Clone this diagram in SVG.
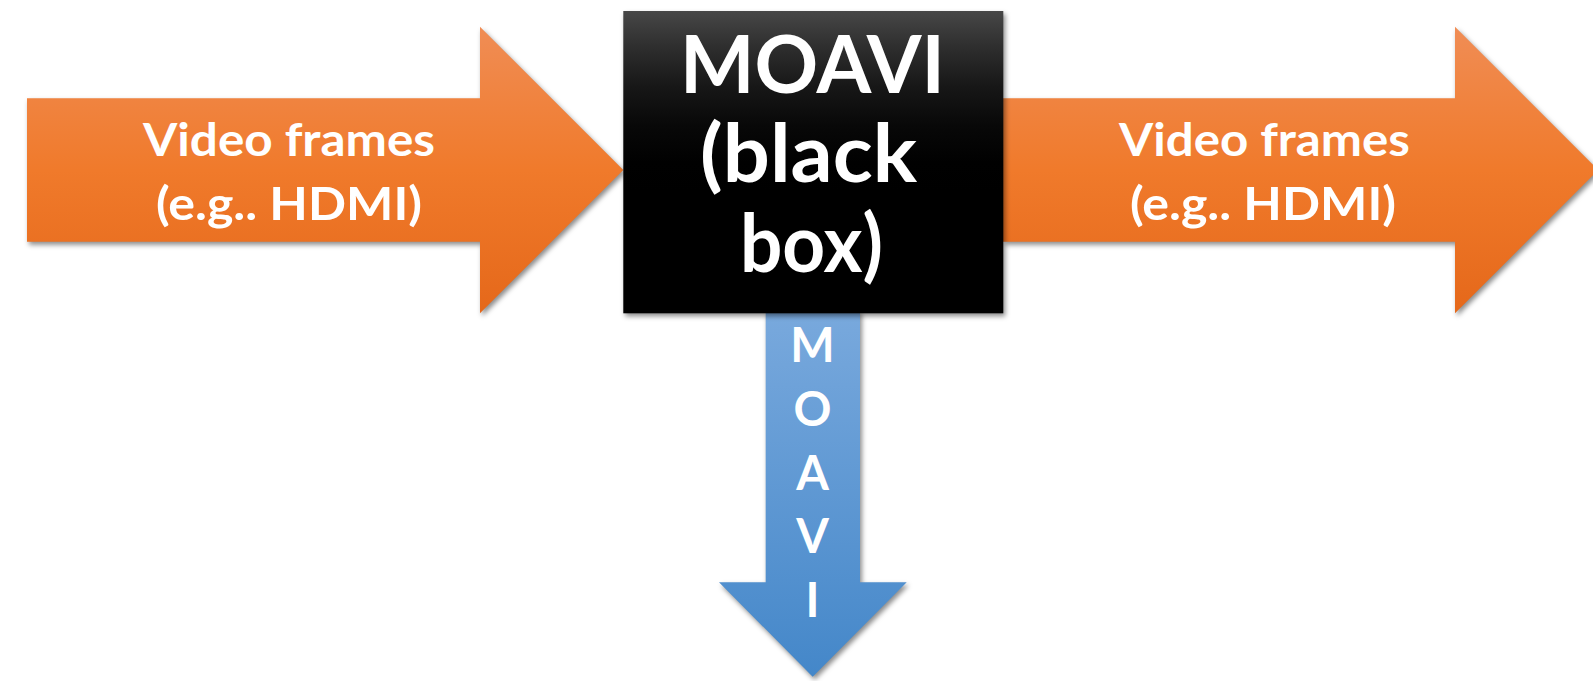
<svg xmlns="http://www.w3.org/2000/svg" width="1593" height="681" viewBox="0 0 1593 681">
  <defs>
    <linearGradient id="gOrange" x1="0" y1="0" x2="0" y2="1">
      <stop offset="0" stop-color="#F08D55"/>
      <stop offset="0.5" stop-color="#F07A2B"/>
      <stop offset="1" stop-color="#E5681A"/>
    </linearGradient>
    <linearGradient id="gBlack" x1="0" y1="0" x2="0" y2="1">
      <stop offset="0" stop-color="#474747"/>
      <stop offset="0.12" stop-color="#2e2e2e"/>
      <stop offset="0.25" stop-color="#171717"/>
      <stop offset="0.38" stop-color="#080808"/>
      <stop offset="0.5" stop-color="#010101"/>
      <stop offset="0.6" stop-color="#000000"/>
      <stop offset="1" stop-color="#000000"/>
    </linearGradient>
    <linearGradient id="gBlue" x1="0" y1="0" x2="0" y2="1">
      <stop offset="0" stop-color="#79A9DD"/>
      <stop offset="1" stop-color="#4487C9"/>
    </linearGradient>
    <filter id="blur" x="-10%" y="-10%" width="120%" height="130%">
      <feGaussianBlur stdDeviation="2.5"/>
    </filter>
  </defs>
  <style>
    text { font-family: Lato, "Open Sans", "Liberation Sans", sans-serif; font-weight: bold; fill: #FFFFFF; text-anchor: middle; }
    .lbl { font-size: 46px; }
    .big { font-size: 81px; }
    .vert { font-size: 47px; }
    .shd { fill: #000000; fill-opacity: 0.45; filter: url(#blur); }
  </style>
  <rect width="1593" height="681" fill="#FFFFFF"/>
  <g id="connectors">
    <g id="arrow-in">
      <path class="shd" transform="translate(2,3)" d="M27,98.3 H480 V26.7 L623.3,170 L480,313.3 V241.7 H27 Z"/>
      <path d="M27,98.3 H480 V26.7 L623.3,170 L480,313.3 V241.7 H27 Z" fill="url(#gOrange)"/>
    </g>
    <g id="arrow-out">
      <path class="shd" transform="translate(2,3)" d="M1003,98.3 H1455 V26.7 L1598.3,170 L1455,313.3 V241.7 H1003 Z"/>
      <path d="M1003,98.3 H1455 V26.7 L1598.3,170 L1455,313.3 V241.7 H1003 Z" fill="url(#gOrange)"/>
    </g>
    <g id="arrow-down">
      <path class="shd" transform="translate(2,3)" d="M765.7,310 H860 V582.3 H906.7 L812.7,676.7 L719,582.3 H765.7 Z"/>
      <path d="M765.7,310 H860 V582.3 H906.7 L812.7,676.7 L719,582.3 H765.7 Z" fill="url(#gBlue)"/>
    </g>
  </g>
  <g id="label-in">
    <text class="lbl" x="289" y="156" textLength="292" lengthAdjust="spacingAndGlyphs">Video frames</text>
    <text class="lbl" x="289" y="220" textLength="266" lengthAdjust="spacingAndGlyphs">(e.g.. HDMI)</text>
  </g>
  <g id="label-out">
    <text class="lbl" x="1264.5" y="156" textLength="291" lengthAdjust="spacingAndGlyphs">Video frames</text>
    <text class="lbl" x="1263" y="220" textLength="266" lengthAdjust="spacingAndGlyphs">(e.g.. HDMI)</text>
  </g>
  <g id="moavi-box">
    <rect class="shd" x="625.3" y="14" width="380" height="302.3"/>
    <rect x="623.3" y="11" width="380" height="302.3" fill="url(#gBlack)"/>
    <text class="big" x="812.5" y="93" textLength="265" lengthAdjust="spacingAndGlyphs">MOAVI</text>
    <text class="big" x="808.5" y="182" textLength="217" lengthAdjust="spacingAndGlyphs">(black</text>
    <text class="big" x="811.5" y="272" textLength="143" lengthAdjust="spacingAndGlyphs">box)</text>
  </g>
  <g id="label-down">
    <text class="vert" x="812.5" y="362">M</text>
    <text class="vert" x="812.5" y="426">O</text>
    <text class="vert" x="812.5" y="489.5">A</text>
    <text class="vert" x="812.5" y="553">V</text>
    <text class="vert" x="812.5" y="617">I</text>
  </g>
</svg>
